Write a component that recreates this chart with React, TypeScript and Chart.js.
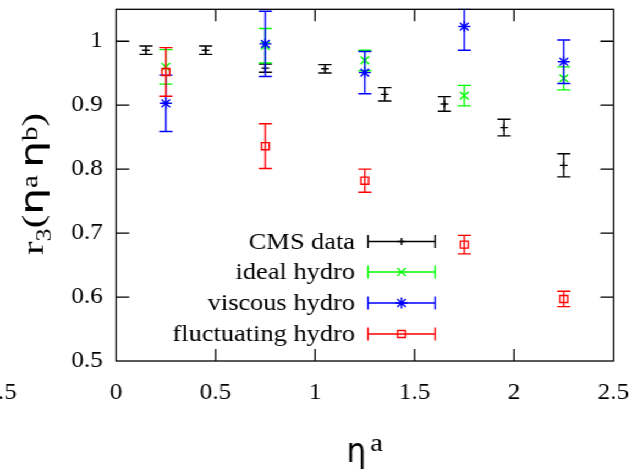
import React, { useEffect, useRef } from 'react';
import { Chart, registerables } from 'chart.js';
import { drawPoint } from 'chart.js/helpers';

Chart.register(...registerables);

// ---------- data ----------
const cmsEta = [0.15, 0.45, 0.75, 1.05, 1.35, 1.65, 1.95, 2.25];
const cmsR3 = [0.986, 0.986, 0.958, 0.957, 0.917, 0.902, 0.865, 0.806];
const cmsErr = [0.0065, 0.0065, 0.0065, 0.0065, 0.0105, 0.0115, 0.013, 0.018];

const modelEta = [0.25, 0.75, 1.25, 1.75, 2.25];
const idealR3 = [0.96, 0.993, 0.97, 0.915, 0.942];
const idealErr = [0.027, 0.027, 0.016, 0.016, 0.018];
const viscousR3 = [0.903, 0.996, 0.951, 1.023, 0.968];
const viscousErrLow = [0.044, 0.051, 0.033, 0.037, 0.034];
const viscousErrHigh = [0.044, 0.051, 0.033, 0.027, 0.034];
const fluctR3 = [0.952, 0.836, 0.782, 0.682, 0.597];
const fluctErr = [0.038, 0.035, 0.018, 0.0145, 0.012];

const xTicks = [0, 0.5, 1, 1.5, 2, 2.5];
const xTickLabels = ['0', '0.5', '1', '1.5', '2', '2.5'];
const yTicks = [0.5, 0.6, 0.7, 0.8, 0.9, 1];
const yTickLabels = ['0.5', '0.6', '0.7', '0.8', '0.9', '1'];

const seriesNames = ['CMS data', 'ideal hydro', 'viscous hydro', 'fluctuating hydro'];
const seriesColors = ['#000000', '#00ff00', '#0000ff', '#ff0000'];

// ---------- layout ----------
const STRETCH = 1.1;
const CW = 580;
const CH = 475;
const SERIF = '"Liberation Serif", "Times New Roman", serif';

const styles = [
  { pointStyle: 'cross', radius: 3.5 },
  { pointStyle: 'crossRot', radius: 5.5 },
  { pointStyle: 'star', radius: 5.5 },
  { pointStyle: 'rect', radius: 5 },
];

function pts(xs: number[], ys: number[], lo: number[], hi: number[]) {
  return xs.map((x, i) => ({ x, y: ys[i], lo: ys[i] - lo[i], hi: ys[i] + hi[i] }));
}

const errorBarPlugin = {
  id: 'errorBars',
  beforeDatasetDraw(chart: any, args: any) {
    const ds = chart.data.datasets[args.index];
    const { ctx, chartArea, scales } = chart;
    ctx.save();
    ctx.beginPath();
    ctx.rect(chartArea.left - 10, chartArea.top - 0.5, chartArea.right - chartArea.left + 20, chartArea.bottom - chartArea.top + 1);
    ctx.clip();
    ctx.strokeStyle = ds.borderColor;
    ctx.lineWidth = 1.4;
    ds.data.forEach((p: any) => {
      const x = scales.x.getPixelForValue(p.x);
      const y1 = scales.y.getPixelForValue(p.lo);
      const y2 = scales.y.getPixelForValue(p.hi);
      ctx.beginPath();
      ctx.moveTo(x, y1);
      ctx.lineTo(x, y2);
      ctx.moveTo(x - 6, y1);
      ctx.lineTo(x + 6, y1);
      ctx.moveTo(x - 6, y2);
      ctx.lineTo(x + 6, y2);
      ctx.stroke();
    });
    ctx.restore();
  },
};

function measureSegments(ctx: CanvasRenderingContext2D, segs: any[]) {
  let w = 0;
  segs.forEach((s) => {
    ctx.font = s.font;
    s.w = ctx.measureText(s.t).width;
    w += s.w;
  });
  return w;
}

const decorPlugin = {
  id: 'decor',
  afterDraw(chart: any) {
    const { ctx, chartArea, scales } = chart;
    const { left, right, top, bottom } = chartArea;
    ctx.save();
    ctx.strokeStyle = '#000';
    ctx.lineWidth = 1.3;
    ctx.strokeRect(left, top, right - left, bottom - top);
    // inward ticks
    ctx.beginPath();
    xTicks.forEach((v) => {
      const x = scales.x.getPixelForValue(v);
      if (x <= left + 1 || x >= right - 1) return;
      ctx.moveTo(x, bottom);
      ctx.lineTo(x, bottom - 12);
      ctx.moveTo(x, top);
      ctx.lineTo(x, top + 12);
    });
    yTicks.forEach((v) => {
      const y = scales.y.getPixelForValue(v);
      if (y >= bottom - 1 || y <= top + 1) return;
      ctx.moveTo(left, y);
      ctx.lineTo(left + 12, y);
      ctx.moveTo(right, y);
      ctx.lineTo(right - 12, y);
    });
    ctx.stroke();

    // legend
    const rows = [241.5, 272, 303, 334];
    const textRight = 322.7;
    const l0 = 334.5;
    const l1 = 395.5;
    const mx = (l0 + l1) / 2;
    ctx.font = `24px ${SERIF}`;
    ctx.textAlign = 'right';
    ctx.textBaseline = 'middle';
    seriesNames.forEach((name, i) => {
      const y = rows[i];
      ctx.fillStyle = '#000';
      ctx.fillText(name, textRight, y + 1);
      ctx.strokeStyle = seriesColors[i];
      ctx.lineWidth = 1.4;
      ctx.beginPath();
      ctx.moveTo(l0, y);
      ctx.lineTo(l1, y);
      ctx.moveTo(l0, y - 6.5);
      ctx.lineTo(l0, y + 6.5);
      ctx.moveTo(l1, y - 6.5);
      ctx.lineTo(l1, y + 6.5);
      ctx.stroke();
      ctx.fillStyle = 'rgba(0,0,0,0)';
      drawPoint(ctx, { pointStyle: styles[i].pointStyle as any, radius: styles[i].radius, rotation: 0, borderWidth: 1.4 }, mx, y);
    });

    // x title
    ctx.fillStyle = '#000';
    ctx.textAlign = 'left';
    ctx.textBaseline = 'alphabetic';
    ctx.save();
    ctx.translate(315, 462);
    ctx.scale(0.83, 1);
    ctx.font = '34px "DejaVu Sans"';
    ctx.fillText('η', 0, 0);
    ctx.restore();
    ctx.font = `26px ${SERIF}`;
    ctx.fillText('a', 336.5, 450.7);

    // y title
    const segs: any[] = [
      { t: 'r', font: `28px ${SERIF}`, dy: 0 },
      { t: '3', font: `18px ${SERIF}`, dy: 7 },
      { t: '(', font: `28px ${SERIF}`, dy: 0 },
      { t: 'η', font: '29px "DejaVu Sans"', dy: 0 },
      { t: 'a', font: `20px ${SERIF}`, dy: -5 },
      { t: ' ', font: `20px ${SERIF}`, dy: 0 },
      { t: 'η', font: '29px "DejaVu Sans"', dy: 0 },
      { t: 'b', font: `20px ${SERIF}`, dy: -5 },
      { t: ')', font: `28px ${SERIF}`, dy: 0 },
    ];
    const total = measureSegments(ctx, segs);
    const span = 142;
    const s = span / total;
    ctx.save();
    ctx.translate(39, 184);
    ctx.rotate(-Math.PI / 2);
    ctx.scale(s, 1);
    let cx = -total / 2;
    segs.forEach((sg) => {
      ctx.font = sg.font;
      ctx.fillText(sg.t, cx, sg.dy);
      cx += sg.w;
    });
    ctx.restore();

    // stray clipped label at far left
    ctx.font = `23px ${SERIF}`;
    ctx.textAlign = 'left';
    ctx.textBaseline = 'middle';
    ctx.fillText('.5', -2, 393);
    ctx.restore();
  },
};

export default function App() {
  const ref = useRef<HTMLCanvasElement | null>(null);
  useEffect(() => {
    if (!ref.current) return;
    const mk = (i: number, data: any[], order: number) => ({
      label: seriesNames[i],
      data,
      borderColor: seriesColors[i],
      backgroundColor: 'rgba(0,0,0,0)',
      pointStyle: styles[i].pointStyle,
      pointRadius: styles[i].radius,
      pointHoverRadius: styles[i].radius,
      pointBorderWidth: 1.4,
      showLine: false,
      order,
      clip: false as any,
    });
    const tickFont = { family: '"Liberation Serif", "Times New Roman", serif', size: 23 };
    const chart = new Chart(ref.current, {
      type: 'scatter',
      data: {
        datasets: [
          mk(0, pts(cmsEta, cmsR3, cmsErr, cmsErr), 4),
          mk(1, pts(modelEta, idealR3, idealErr, idealErr), 3),
          mk(2, pts(modelEta, viscousR3, viscousErrLow, viscousErrHigh), 2),
          mk(3, pts(modelEta, fluctR3, fluctErr, fluctErr), 1),
        ],
      },
      options: {
        animation: false,
        responsive: false,
        devicePixelRatio: 1,
        layout: { padding: { left: 0, right: 22.3, top: 9.3, bottom: 0 } },
        plugins: { legend: { display: false }, tooltip: { enabled: false } },
        events: [],
        scales: {
          x: {
            type: 'linear',
            min: 0,
            max: 2.5,
            grid: { display: false, drawTicks: false },
            border: { display: false },
            afterBuildTicks: (sc: any) => {
              sc.ticks = xTicks.map((v) => ({ value: v }));
            },
            afterFit: (sc: any) => {
              sc.height = 114;
              sc.paddingLeft = 0;
              sc.paddingRight = 0;
              sc.paddingTop = 0;
              sc.paddingBottom = 0;
            },
            ticks: {
              padding: 18,
              color: '#000',
              font: tickFont,
              maxRotation: 0,
              autoSkip: false,
              callback: (_v: any, i: number) => xTickLabels[i],
            },
          },
          y: {
            type: 'linear',
            min: 0.5,
            max: 1.05,
            grid: { display: false, drawTicks: false },
            border: { display: false },
            afterBuildTicks: (sc: any) => {
              sc.ticks = yTicks.map((v) => ({ value: v }));
            },
            afterFit: (sc: any) => {
              sc.width = 105.5;
              sc.paddingLeft = 0;
              sc.paddingRight = 0;
              sc.paddingTop = 0;
              sc.paddingBottom = 0;
            },
            ticks: {
              padding: 12,
              color: '#000',
              font: tickFont,
              autoSkip: false,
              callback: (_v: any, i: number) => yTickLabels[i],
            },
          },
        },
      },
      plugins: [errorBarPlugin, decorPlugin],
    });
    return () => chart.destroy();
  }, []);

  return (
    <div
      style={{
        position: 'absolute',
        left: 0,
        top: 0,
        width: CW,
        height: CH,
        transform: `scaleX(${STRETCH})`,
        transformOrigin: '0 0',
        background: '#fff',
      }}
    >
      <canvas ref={ref} width={CW} height={CH} style={{ display: 'block' }} />
    </div>
  );
}
